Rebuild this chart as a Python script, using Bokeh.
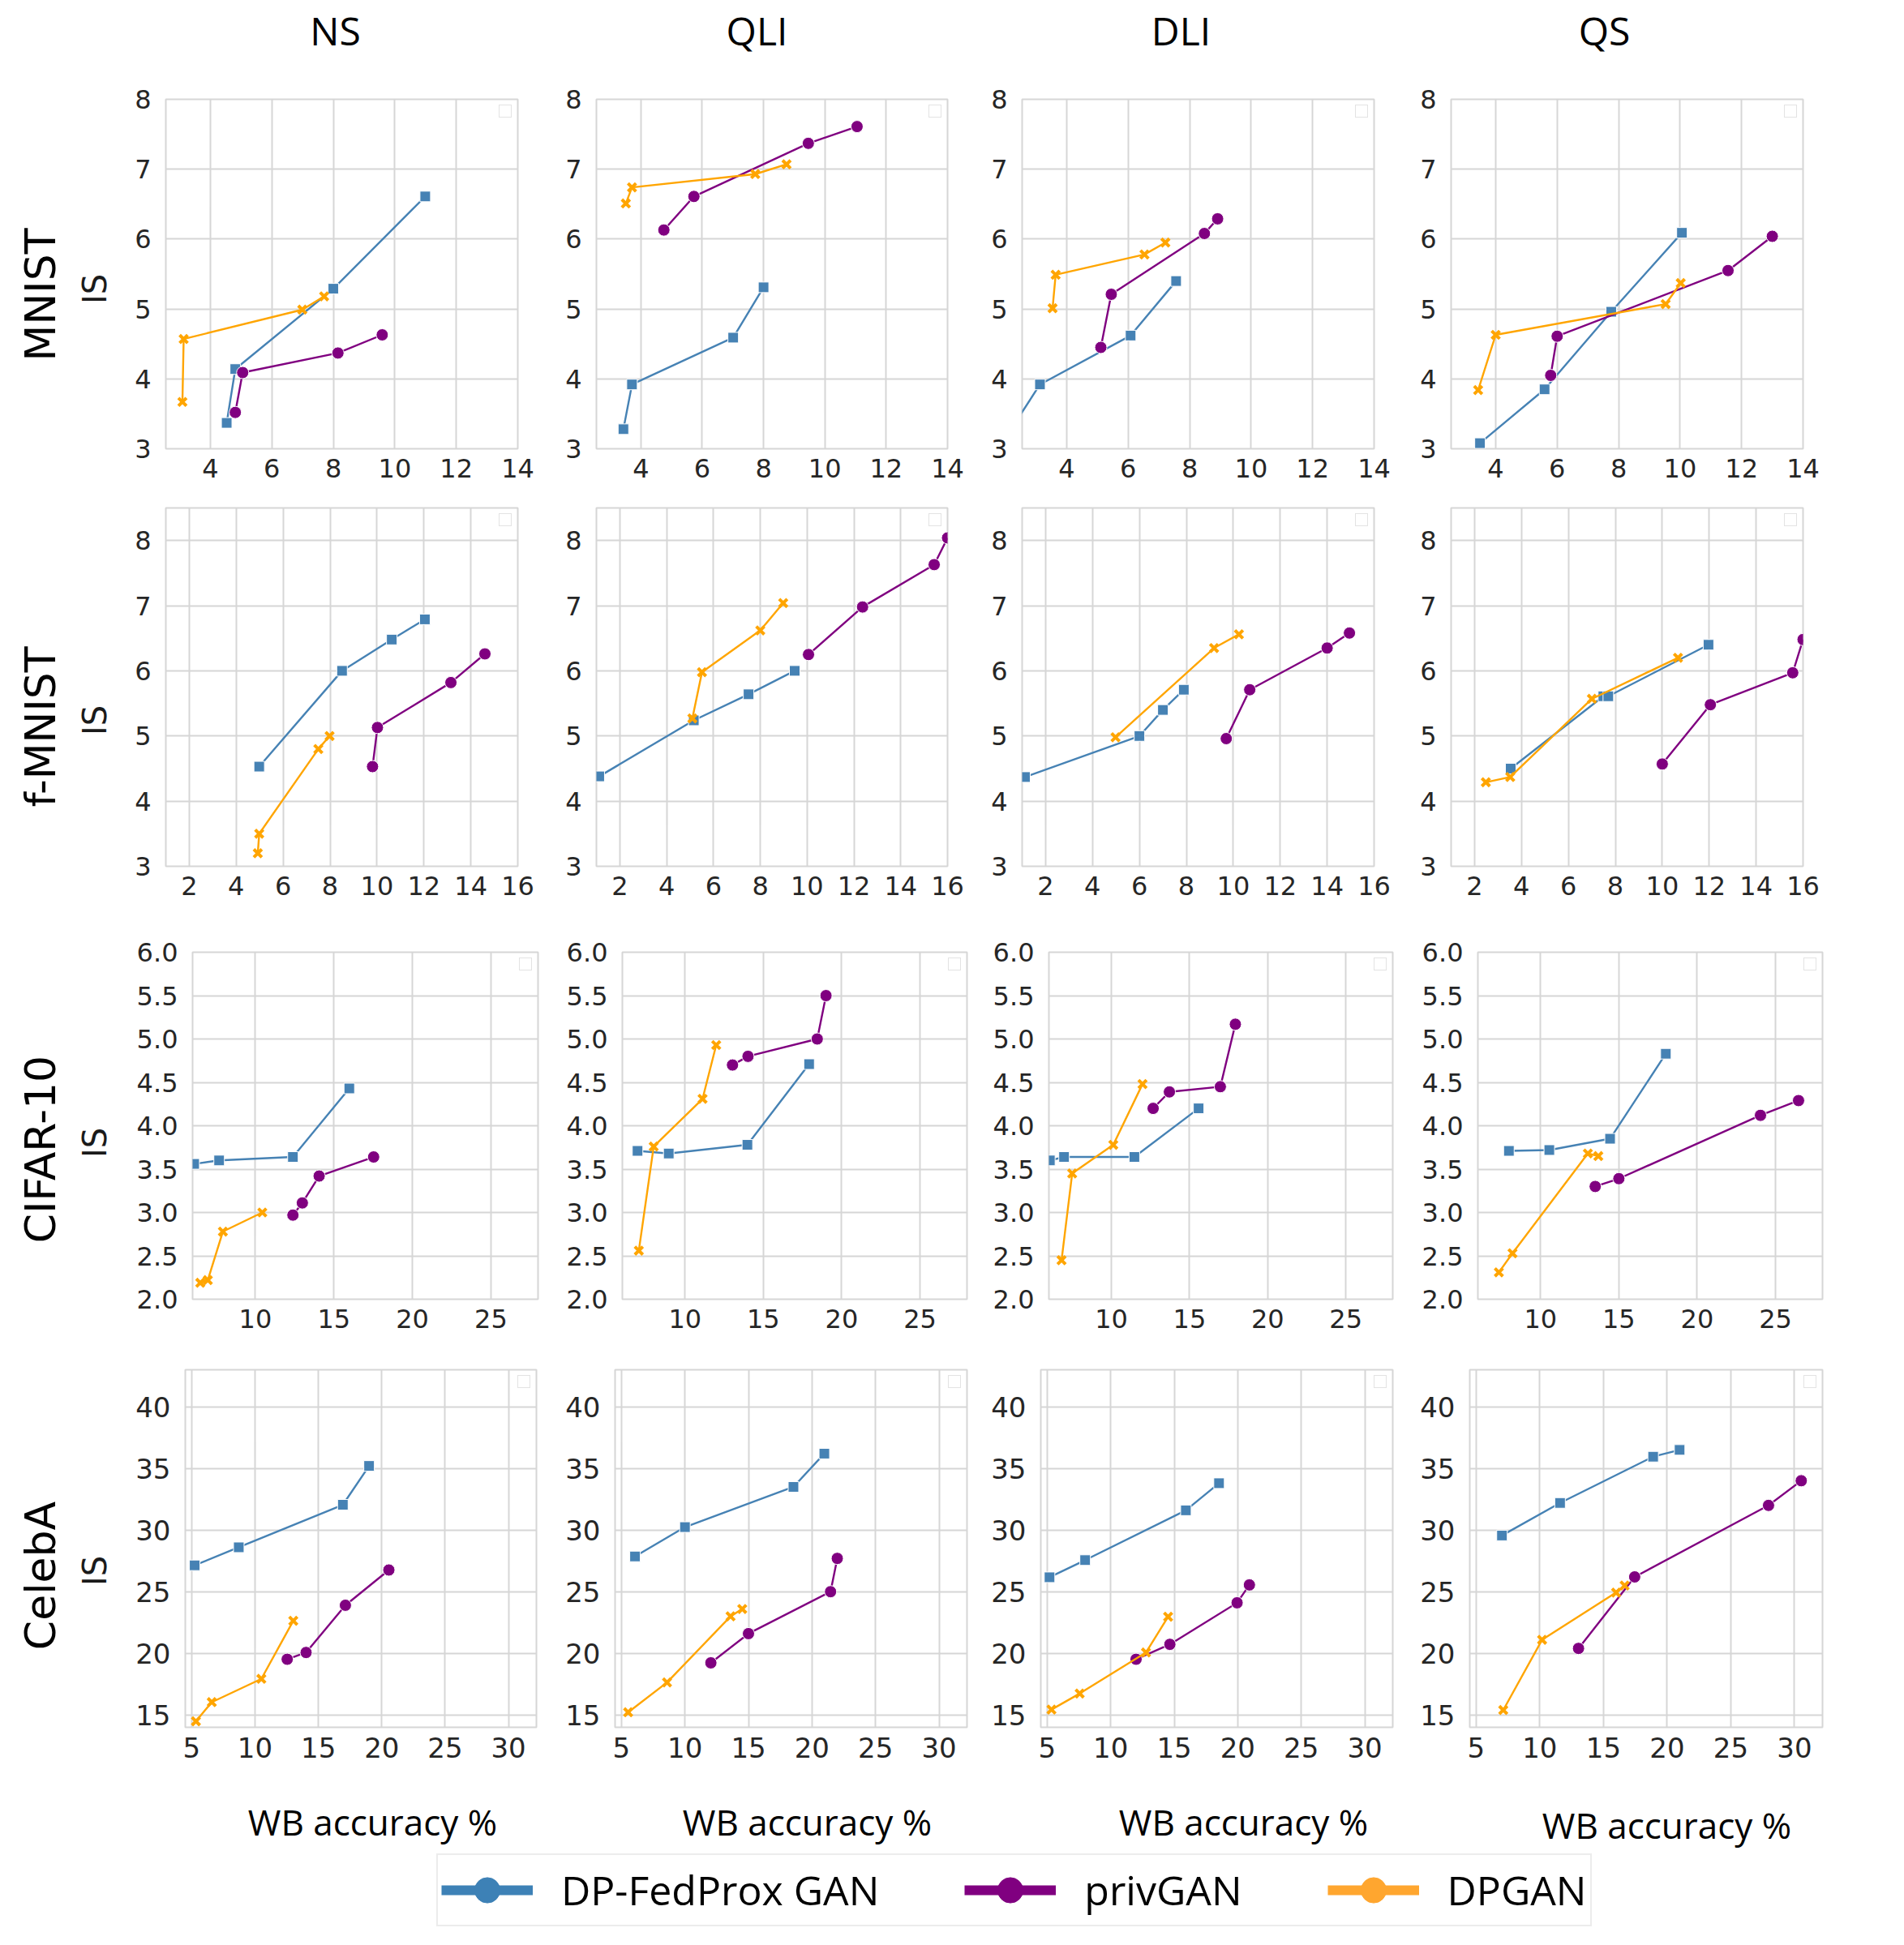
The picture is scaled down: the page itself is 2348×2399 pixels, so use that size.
import math
from bokeh.plotting import figure
from bokeh.layouts import column, row
from bokeh.models import (FixedTicker, Range1d, Legend, LegendItem, Label,
                          PrintfTickFormatter)
from bokeh.embed import file_html
from bokeh.resources import INLINE

# ---------------- data ----------------
DATASETS = ["MNIST", "f-MNIST", "CIFAR-10", "CelebA"]
ATTACKS = ["NS", "QLI", "DLI", "QS"]
METHODS = ["DP-FedProx GAN", "privGAN", "DPGAN"]
Y_LABEL = "IS"
X_LABEL = "WB accuracy %"

X_TICKS = [[4, 6, 8, 10, 12, 14],
           [2, 4, 6, 8, 10, 12, 14, 16],
           [10, 15, 20, 25],
           [5, 10, 15, 20, 25, 30]]
Y_TICKS = [[3, 4, 5, 6, 7, 8],
           [3, 4, 5, 6, 7, 8],
           [2.0, 2.5, 3.0, 3.5, 4.0, 4.5, 5.0, 5.5, 6.0],
           [15, 20, 25, 30, 35, 40]]
X_RANGES = [(2.55, 14.0), (1.0, 16.0), (6.0, 28.0), (4.5, 32.2)]
Y_RANGES = [(3.0, 8.0), (3.0, 8.5), (2.0, 6.0), (14.0, 43.0)]

# each list: one sub-list per attack (NS, QLI, DLI, QS)
MNIST_FED_X = [[4.53, 4.81, 8.0, 10.99], [3.43, 3.71, 7.01, 8.0], [2.0, 3.13, 6.08, 7.56], [3.49, 5.59, 7.76, 10.06]]
MNIST_FED_Y = [[3.37, 4.14, 5.29, 6.61], [3.28, 3.92, 4.59, 5.31], [3.15, 3.92, 4.62, 5.40], [3.08, 3.85, 4.96, 6.09]]
MNIST_PRIV_X = [[4.81, 5.05, 8.15, 9.59], [4.75, 5.73, 9.46, 11.05], [5.11, 5.45, 8.48, 8.91], [5.79, 6.0, 11.56, 13.0]]
MNIST_PRIV_Y = [[3.52, 4.09, 4.37, 4.63], [6.13, 6.61, 7.37, 7.61], [4.45, 5.21, 6.08, 6.29], [4.05, 4.61, 5.55, 6.04]]
MNIST_DP_X = [[3.09, 3.13, 6.99, 7.70], [3.51, 3.71, 7.73, 8.75], [3.54, 3.64, 6.53, 7.21], [3.43, 4.0, 9.53, 10.02]]
MNIST_DP_Y = [[3.67, 4.57, 4.99, 5.18], [6.51, 6.74, 6.93, 7.07], [5.01, 5.49, 5.78, 5.95], [3.84, 4.63, 5.07, 5.37]]

FMNIST_FED_X = [[4.98, 8.51, 10.63, 12.04], [1.12, 5.16, 7.5, 9.47], [1.12, 6.0, 7.0, 7.89], [3.54, 7.49, 7.7, 11.97]]
FMNIST_FED_Y = [[4.53, 6.0, 6.48, 6.79], [4.38, 5.24, 5.64, 6.0], [4.37, 5.0, 5.40, 5.71], [4.5, 5.61, 5.61, 6.4]]
FMNIST_PRIV_X = [[9.81, 10.02, 13.15, 14.6], [10.06, 12.37, 15.43, 16.0], [9.7, 10.7, 14.0, 14.95], [10.0, 12.05, 15.56, 16.0]]
FMNIST_PRIV_Y = [[4.53, 5.13, 5.82, 6.26], [6.25, 6.98, 7.63, 8.04], [4.96, 5.71, 6.35, 6.58], [4.57, 5.48, 5.97, 6.48]]
FMNIST_DP_X = [[4.92, 4.98, 7.5, 7.98], [5.1, 5.51, 8.0, 8.98], [4.98, 9.18, 10.24], [2.48, 3.52, 7.0, 10.67]]
FMNIST_DP_Y = [[3.2, 3.5, 4.8, 5.0], [5.27, 5.98, 6.62, 7.04], [4.98, 6.35, 6.56], [4.29, 4.37, 5.57, 6.2]]

CIFAR_FED_X = [[6.1, 7.69, 12.39, 15.98], [6.97, 8.96, 13.98, 17.92], [6.06, 6.97, 11.47, 15.58], [7.98, 10.56, 14.44, 18.0]]
CIFAR_FED_Y = [[3.56, 3.60, 3.64, 4.43], [3.71, 3.68, 3.78, 4.71], [3.60, 3.64, 3.64, 4.2], [3.71, 3.72, 3.85, 4.83]]
CIFAR_PRIV_X = [[12.39, 12.99, 14.06, 17.53], [13.03, 14.02, 18.44, 19.0], [12.67, 13.71, 16.97, 17.93], [13.49, 15.0, 24.04, 26.47]]
CIFAR_PRIV_Y = [[2.97, 3.11, 3.42, 3.64], [4.70, 4.80, 5.0, 5.50], [4.2, 4.39, 4.45, 5.17], [3.30, 3.39, 4.12, 4.29]]
CIFAR_DP_X = [[6.49, 6.97, 7.93, 10.44], [7.05, 8.0, 11.12, 11.99], [6.81, 7.49, 10.12, 11.99], [7.34, 8.21, 13.02, 13.69]]
CIFAR_DP_Y = [[2.19, 2.22, 2.78, 3.0], [2.56, 3.76, 4.31, 4.93], [2.45, 3.45, 3.78, 4.48], [2.31, 2.53, 3.68, 3.65]]

CELEBA_FED_X = [[5.24, 8.72, 16.93, 19.0], [6.07, 10.0, 18.54, 20.97], [5.19, 7.99, 15.92, 18.53], [7.03, 11.59, 18.9, 20.98]]
CELEBA_FED_Y = [[27.14, 28.6, 32.05, 35.2], [27.86, 30.24, 33.5, 36.2], [26.17, 27.56, 31.6, 33.8], [29.56, 32.2, 35.95, 36.5]]
CELEBA_PRIV_X = [[12.54, 14.03, 17.13, 20.56], [12.04, 15.0, 21.46, 21.99], [12.0, 14.66, 19.95, 20.92], [13.04, 17.45, 27.96, 30.53]]
CELEBA_PRIV_Y = [[19.52, 20.07, 23.9, 26.76], [19.23, 21.6, 25.0, 27.7], [19.52, 20.73, 24.1, 25.55], [20.4, 26.2, 32.0, 34.0]]
CELEBA_DP_X = [[5.34, 6.59, 10.5, 13.02], [5.53, 8.59, 13.59, 14.51], [5.34, 7.56, 12.78, 14.52], [7.13, 10.18, 15.99, 16.66]]
CELEBA_DP_Y = [[14.49, 16.04, 17.93, 22.64], [15.22, 17.64, 23.0, 23.6], [15.44, 16.74, 20.07, 22.97], [15.4, 21.1, 24.93, 25.5]]

ROWS_DATA = [
    [(MNIST_FED_X, MNIST_FED_Y), (MNIST_PRIV_X, MNIST_PRIV_Y), (MNIST_DP_X, MNIST_DP_Y)],
    [(FMNIST_FED_X, FMNIST_FED_Y), (FMNIST_PRIV_X, FMNIST_PRIV_Y), (FMNIST_DP_X, FMNIST_DP_Y)],
    [(CIFAR_FED_X, CIFAR_FED_Y), (CIFAR_PRIV_X, CIFAR_PRIV_Y), (CIFAR_DP_X, CIFAR_DP_Y)],
    [(CELEBA_FED_X, CELEBA_FED_Y), (CELEBA_PRIV_X, CELEBA_PRIV_Y), (CELEBA_DP_X, CELEBA_DP_Y)],
]

# ---------------- style / layout ----------------
COLORS = ["#4682B4", "#800080", "#FFA500"]
LEGEND_COLORS = ["#3D81B6", "#800080", "#FFA62F"]
GRID = "#d6d6d6"
PAGE_W, PAGE_H = 2348, 2399

HEADER_H = 100          # strip with the column titles
LEFT_W = 150            # strip with the row labels
FRAME_W = [[434, 433, 434, 434], [434, 433, 434, 434], [426, 425, 424, 425], [433, 434, 434, 435]]
BORDER_L = [[54, 60, 55, 54], [54, 60, 55, 54], [87, 72, 72, 72], [78, 66, 66, 66]]
BORDER_R = [[37, 37, 41, 125], [37, 37, 41, 125], [32, 29, 33, 101], [31, 25, 29, 101]]
FRAME_H = [431, 442, 428, 441]
BORDER_T = [22, 13, 34, 25]
BORDER_B = [60, 72, 62, 60]
TICK_SIZE = [32, 32, 32, 34]

# page positions (px) of the centres of the outer texts
TITLE_CX = [413, 933, 1456, 1978]
TITLE_CY = 37
ROWLAB_CX = 49
ROWLAB_CY = [363, 896, 1417, 1943]
IS_CX = 116
IS_CY = [356, 888, 1409, 1937]
XLAB_CX = [459, 995, 1533, 2055]
XLAB_CY = [2246, 2246, 2246, 2250]


def style_axis(ax, size):
    ax.axis_line_color = None
    ax.major_tick_line_color = None
    ax.minor_tick_line_color = None
    ax.major_tick_out = 0
    ax.major_tick_in = 0
    ax.minor_tick_out = 0
    ax.minor_tick_in = 0
    ax.major_label_text_font = "DejaVu Sans"
    ax.major_label_text_font_size = f"{size}px"
    ax.major_label_text_color = "#262626"


def strip(w, h):
    s = figure(width=w, height=h, x_range=Range1d(0, 1), y_range=Range1d(0, 1),
               x_axis_type=None, y_axis_type=None, output_backend="svg",
               toolbar_location=None, min_border=0)
    s.outline_line_color = None
    return s


def strip_label(s, text, px, py, ox, oy_bottom, font, size, color, angle=0.0):
    # px, py: page position; (ox, oy_bottom): page position of the strip's bottom-left
    s.add_layout(Label(x=px - ox, y=oy_bottom - py, x_units="screen", y_units="screen",
                       text=text, angle=angle, text_align="center",
                       text_baseline="middle", text_font=font,
                       text_font_size=size, text_color=color))


# ---------- panels ----------
rows = []
rows_h = 0
for r in range(4):
    figs = []
    ylo, yhi = Y_RANGES[r]
    xlo, xhi = X_RANGES[r]
    for c in range(4):
        p = figure(title=None, frame_width=FRAME_W[r][c], frame_height=FRAME_H[r],
                   min_border_left=BORDER_L[r][c], min_border_right=BORDER_R[r][c],
                   min_border_top=BORDER_T[r], min_border_bottom=BORDER_B[r],
                   x_range=Range1d(xlo, xhi), y_range=Range1d(ylo, yhi),
                   output_backend="svg", toolbar_location=None)
        p.outline_line_color = GRID
        p.outline_line_width = 2
        p.grid.grid_line_color = GRID
        p.grid.grid_line_width = 2
        p.xaxis.ticker = FixedTicker(ticks=X_TICKS[r])
        p.yaxis.ticker = FixedTicker(ticks=Y_TICKS[r])
        if r == 2:
            p.yaxis.formatter = PrintfTickFormatter(format="%.1f")
        style_axis(p.xaxis[0], TICK_SIZE[r])
        style_axis(p.yaxis[0], TICK_SIZE[r])
        p.xaxis.major_label_standoff = 12
        p.yaxis.major_label_standoff = 18

        for m in range(3):
            xs = ROWS_DATA[r][m][0][c]
            ys = ROWS_DATA[r][m][1][c]
            col = COLORS[m]
            p.line(xs, ys, line_color=col, line_width=2.4)
            if m == 0:
                p.scatter(xs, ys, marker="square", size=13, fill_color=col,
                          line_color="white", line_width=1)
            elif m == 1:
                p.scatter(xs, ys, marker="circle", size=15, fill_color=col,
                          line_color="white", line_width=1)
            else:
                p.scatter(xs, ys, marker="x", size=14, line_color=col, line_width=4)

        # small empty legend box (as in reference)
        dummy = p.scatter(x=[], y=[], fill_alpha=0, line_alpha=0)
        small = Legend(items=[LegendItem(label=" ", renderers=[dummy])],
                       location="top_right", glyph_width=2, glyph_height=2,
                       label_standoff=0, label_width=0, label_height=0,
                       label_text_font_size="2px", padding=6, margin=7,
                       border_line_color="#c8c8c8", border_line_width=1.5,
                       background_fill_color="white", spacing=0)
        p.add_layout(small)
        figs.append(p)
    rows.append(row(*figs))
    rows_h += BORDER_T[r] + FRAME_H[r] + BORDER_B[r]

# ---------- header strip: column titles ----------
header = strip(PAGE_W, HEADER_H)
for c in range(4):
    strip_label(header, ATTACKS[c], TITLE_CX[c], TITLE_CY, 0, HEADER_H,
                "Open Sans", "48px", "black")

# ---------- left strip: row labels ----------
left = strip(LEFT_W, rows_h)
left_bottom = HEADER_H + rows_h
for r in range(4):
    strip_label(left, Y_LABEL, IS_CX, IS_CY[r], 0, left_bottom,
                "DejaVu Sans", "40px", "#1a1a1a", angle=math.pi / 2)
    strip_label(left, DATASETS[r], ROWLAB_CX, ROWLAB_CY[r], 0, left_bottom,
                "DejaVu Sans", "52px", "black", angle=math.pi / 2)

# ---------- bottom strip: x labels + shared legend ----------
bottom_h = PAGE_H - left_bottom
bottom = strip(PAGE_W, bottom_h)
for c in range(4):
    strip_label(bottom, X_LABEL, XLAB_CX[c], XLAB_CY[c], 0, PAGE_H,
                "Open Sans", "44px", "black")

# proxy renderers: real series values, which lie outside this strip's 0..1 ranges
items = []
for m in range(3):
    px_, py_ = ROWS_DATA[3][m][0][0], ROWS_DATA[3][m][1][0]
    lr = bottom.line(px_, py_, line_color=LEGEND_COLORS[m], line_width=12)
    sr = bottom.scatter(px_, py_, marker="circle", size=31, fill_color=LEGEND_COLORS[m],
                        line_color=LEGEND_COLORS[m])
    items.append(LegendItem(label=METHODS[m], renderers=[lr, sr]))
leg = Legend(items=items, orientation="horizontal", location=(538, 23),
             glyph_width=113, glyph_height=78, label_standoff=35, spacing=105,
             padding=4, margin=0, label_text_font="Open Sans",
             label_text_font_size="50px", label_text_color="black",
             border_line_color="#d9d9d9", border_line_width=2,
             background_fill_color="white")
bottom.add_layout(leg)

layout = column(header, row(left, column(*rows)), bottom)
open("out.html", "w").write(file_html(layout, INLINE))
